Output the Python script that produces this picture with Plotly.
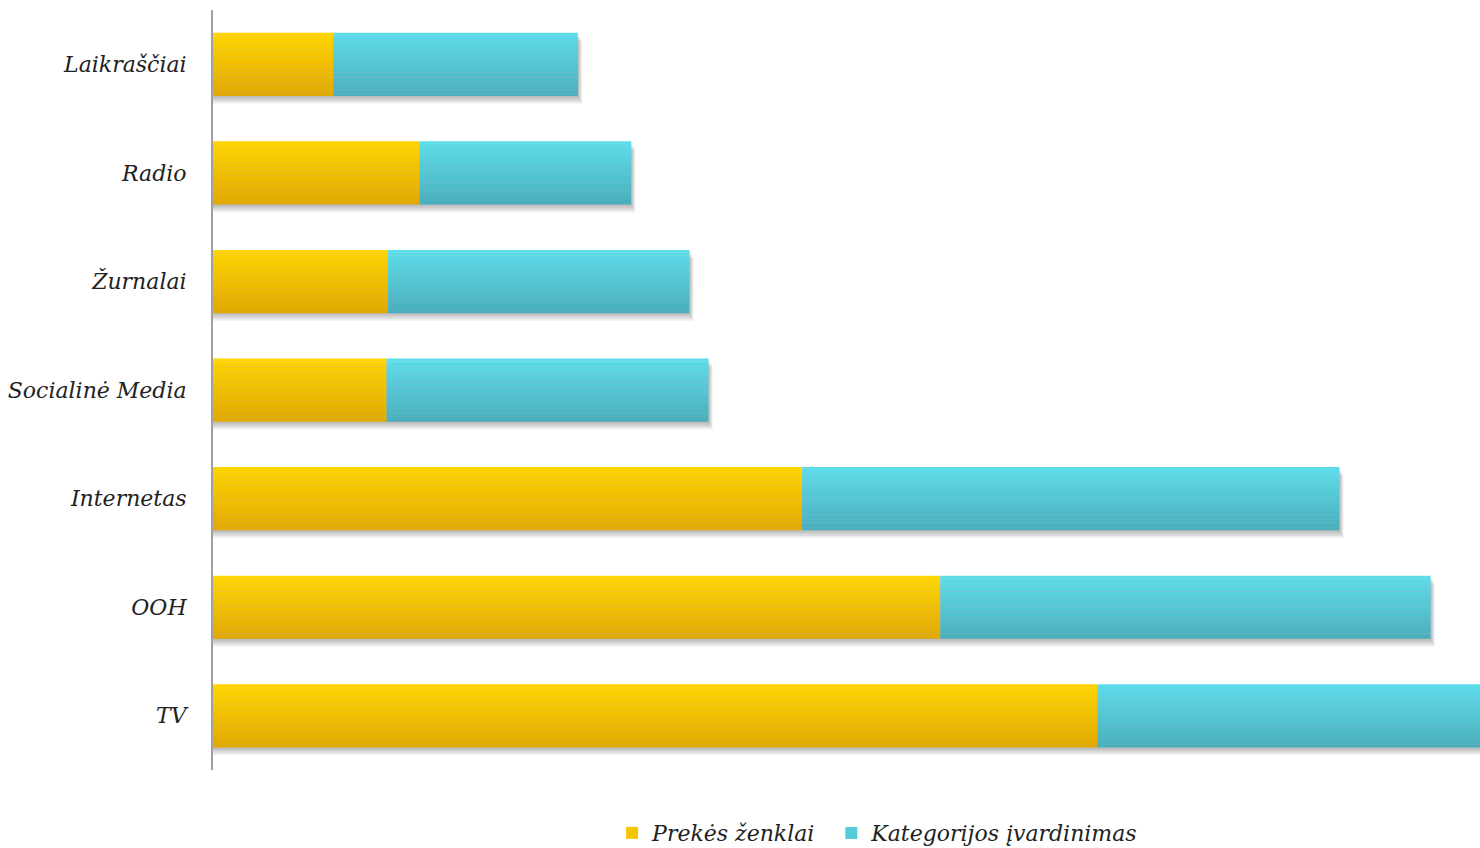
import plotly.graph_objects as go

# Media channels, listed top to bottom
categories = ["Laikraščiai", "Radio", "Žurnalai", "Socialinė Media", "Internetas", "OOH", "TV"]
series_names = ["Prekės ženklai", "Kategorijos įvardinimas"]
brand_values = [9.5, 16.3, 13.8, 13.7, 46.5, 57.4, 69.8]
category_values = [19.3, 16.7, 23.8, 25.4, 42.4, 38.7, 30.2]

# top / bottom colours of each series' vertical gradient
gradients = [("#FFD400", "#E2A900"), ("#5DDCEA", "#4AAFBD")]
legend_ids = ["legend", "legend2"]

BAR_W = 0.58
SLICES = 24
FONT = "DejaVu Serif"


def hex_rgb(h):
    h = h.lstrip("#")
    return tuple(int(h[i:i + 2], 16) for i in (0, 2, 4))


def mix(c1, c2, t):
    a, b = hex_rgb(c1), hex_rgb(c2)
    return "rgb(%d,%d,%d)" % tuple(round(a[i] + (b[i] - a[i]) * t) for i in range(3))


fig = go.Figure()

totals = [a + b for a, b in zip(brand_values, category_values)]

# soft drop shadow under each stacked bar
for k in range(1, 5):
    fig.add_trace(go.Bar(
        y=categories, x=[t + 0.08 * k for t in totals], base=0,
        orientation="h", width=BAR_W, offset=-BAR_W / 2 + 0.018 * k,
        marker=dict(color="rgba(0,0,0,0.07)", line=dict(width=0)),
        showlegend=False, hoverinfo="skip",
    ))

bases = [[0] * len(categories), brand_values]
for s, (name, vals) in enumerate(zip(series_names, [brand_values, category_values])):
    top, bottom = gradients[s]
    for k in range(SLICES):
        t = k / (SLICES - 1)
        fig.add_trace(go.Bar(
            y=categories, x=vals, base=bases[s],
            orientation="h",
            width=BAR_W / SLICES + 0.002,
            offset=-BAR_W / 2 + k * BAR_W / SLICES,
            marker=dict(color=mix(top, bottom, t), line=dict(width=0)),
            name=name, legendgroup=name, legend=legend_ids[s],
            showlegend=(k == SLICES // 3),
            hovertemplate="%{y}: %{x}<extra>" + name + "</extra>",
        ))

legend_style = dict(
    orientation="h", xanchor="left", y=-0.083, yanchor="middle",
    font=dict(family=FONT, size=22, color="#222", style="italic"),
    itemwidth=30, bgcolor="rgba(0,0,0,0)",
)

fig.update_layout(
    width=1480, height=848,
    margin=dict(l=213, r=0, t=10, b=78, autoexpand=False),
    paper_bgcolor="white", plot_bgcolor="white",
    barmode="overlay",
    font=dict(family=FONT, size=22, color="#222"),
    xaxis=dict(range=[0, 100], visible=False, showgrid=False, zeroline=False),
    yaxis=dict(
        range=[6.5, -0.5], type="category",
        showline=True, linecolor="#a0a0a0", linewidth=2,
        showgrid=False, zeroline=False, ticks="",
        ticklabelstandoff=20,
        tickfont=dict(family=FONT, size=22, color="#222", style="italic"),
    ),
    legend=dict(x=0.315, **legend_style),
    legend2=dict(x=0.488, **legend_style),
    showlegend=True,
)

fig.write_html("out.html")
